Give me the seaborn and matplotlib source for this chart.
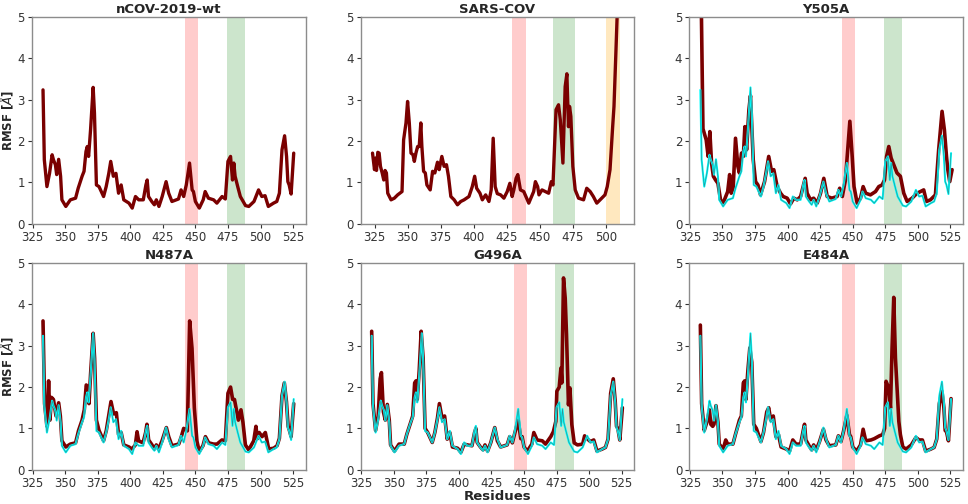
import numpy as np
import matplotlib
matplotlib.use("Agg")
import matplotlib.pyplot as plt
import seaborn as sns

# ===============================
# RMSF data
# ===============================

# wild type nCOV-2019 (also drawn in cyan behind every mutant)
wt_res = [333, 334, 336, 338, 340, 341, 342.5, 343.5, 345, 346.5,
          347.5, 350.5, 354, 358, 360, 363, 364.5, 366, 367, 368,
          369.5, 371.5, 372.5, 374, 376, 379.5, 381.5, 383.5, 385, 387,
          389, 391, 393, 395, 399, 401.5, 404, 406.5, 410, 412,
          413, 414, 416.5, 418.5, 420, 422, 424.5, 427.5, 429.5, 432,
          437, 439, 441, 443, 445.5, 447.5, 448.5, 450, 453, 456,
          457.5, 460, 464, 466.5, 470.5, 473, 475, 477, 478.5, 479.5,
          480.5, 482.5, 484.5, 488.5, 491, 495, 498.5, 501, 503.5, 506,
          510, 512.5, 514.5, 516.5, 518.5, 520, 521, 522, 523.5, 525.5]
wt_rmsf = [3.24, 1.55, 0.9, 1.22, 1.67, 1.55, 1.43, 1.19, 1.56, 1.15,
           0.58, 0.42, 0.58, 0.62, 0.86, 1.15, 1.27, 1.75, 1.87, 1.63,
           2.27, 3.3, 2.68, 0.94, 0.9, 0.66, 0.9, 1.22, 1.51, 1.15,
           1.22, 0.74, 0.94, 0.58, 0.5, 0.38, 0.66, 0.58, 0.58, 0.94,
           1.06, 0.66, 0.54, 0.46, 0.58, 0.42, 0.66, 1.02, 0.74, 0.54,
           0.6, 0.82, 0.66, 0.94, 1.47, 0.82, 0.78, 0.54, 0.38, 0.58,
           0.78, 0.62, 0.58, 0.5, 0.66, 0.6, 1.51, 1.63, 1.06, 1.47,
           1.15, 0.9, 0.66, 0.44, 0.42, 0.54, 0.82, 0.66, 0.68, 0.42,
           0.5, 0.54, 0.74, 1.79, 2.13, 1.63, 1.02, 0.94, 0.72, 1.71]

# SARS-COV
sars_res = [323.5, 325, 325.8, 326.5, 327.5, 328.5, 329.5, 330.8, 332, 333,
            334, 335, 337.5, 340, 342.5, 345.8, 347, 348.8, 350, 351.3,
            352.6, 354.1, 355.1, 356.3, 357.6, 358.8, 360, 360.8, 362.1, 363.4,
            364.6, 367.1, 368.9, 370.6, 372.6, 373.9, 375.9, 377.6, 379.4, 380.9,
            382.7, 385.2, 387.7, 390.2, 392.7, 396.4, 398.9, 400.7, 402.2, 404.7,
            406.5, 409, 411.5, 413.2, 414.7, 416.2, 417.8, 420.3, 422.8, 425.3,
            427.3, 429, 430.3, 432, 433.3, 435.3, 437.8, 441.6, 445.3, 446.6,
            448.3, 449.3, 451.6, 454.1, 456.6, 458.6, 459.9, 462.2, 464.1, 465.4,
            467.4, 469.1, 470.4, 471.6, 472.4, 473.4, 474.9, 476.7, 479.2, 483,
            485.4, 488, 490.4, 493, 495.5, 499.2, 500.9, 503, 505, 506,
            507.5, 509]
sars_rmsf = [1.71, 1.31, 1.59, 1.29, 1.73, 1.71, 1.39, 1.23, 1.06, 1.29,
             1.23, 0.74, 0.58, 0.62, 0.7, 0.78, 2.03, 2.44, 2.96, 2.44,
             1.71, 1.67, 1.51, 1.71, 1.87, 1.87, 2.44, 1.87, 1.27, 1.23,
             0.94, 0.82, 1.27, 1.23, 1.49, 1.31, 1.63, 1.39, 1.43, 1.15,
             0.66, 0.58, 0.46, 0.54, 0.58, 0.66, 0.9, 1.15, 0.86, 0.74,
             0.58, 0.7, 0.54, 0.82, 2.07, 0.9, 0.73, 0.7, 0.62, 0.78,
             0.98, 0.66, 0.82, 1.1, 1.19, 0.82, 0.78, 0.5, 0.78, 1.02,
             0.9, 0.7, 0.82, 0.78, 0.74, 1.02, 0.94, 2.76, 2.88, 2.52,
             1.47, 3.32, 3.63, 2.35, 2.84, 2.6, 1.39, 0.82, 0.62, 0.58,
             0.86, 0.78, 0.66, 0.5, 0.58, 0.7, 0.9, 1.31, 2.35, 2.84,
             4.2, 5.6]

# Y505A
y505a_res = [333, 335, 337.5, 339, 340.3, 341.6, 343, 344.7, 346.5,
             348.5, 350.5, 352.5, 354, 355.5, 356.7, 358.2, 360, 361.8, 363,
             364.6, 366, 367.2, 368.5, 370.3, 371.5, 373.6, 375.4, 377.2, 379.2,
             382.3, 385.5, 387.7, 389.4, 392, 394.6, 396.6, 399.7, 402.2, 404.8,
             407.4, 410, 413.5, 415, 417.6, 420, 422.7, 425.3, 427.8, 430.4,
             434, 438, 440, 442, 444.4, 447.8, 449.6, 451, 453.4, 456,
             458, 460, 463.6, 467.5, 470, 472.6, 474.4, 476, 477.7, 479.5,
             481.5, 484, 486.6, 489.2, 491.8, 495.6, 499.4, 502, 504.5, 506.6,
             509.7, 513.5, 516, 518.6, 520.4, 522, 523, 524.5, 526.3]
y505a_rmsf = [7.0, 2.3, 2.03, 1.63, 2.23, 1.47, 1.15, 1.06, 0.98,
              0.58, 0.5, 0.66, 0.78, 1.19, 0.74, 0.86, 2.07, 1.39, 1.23,
              1.71, 1.63, 2.35, 1.79, 2.76, 3.1, 1.55, 1.02, 0.94, 0.7,
              1.02, 1.63, 1.27, 1.31, 0.9, 0.74, 0.66, 0.62, 0.48, 0.62,
              0.58, 0.66, 1.1, 0.74, 0.58, 0.62, 0.5, 0.74, 1.1, 0.66,
              0.62, 0.66, 0.86, 0.66, 1.06, 2.48, 1.63, 0.9, 0.5, 0.62,
              0.9, 0.74, 0.7, 0.78, 0.9, 0.94, 1.06, 1.63, 1.87, 1.59,
              1.43, 1.23, 1.15, 0.74, 0.54, 0.62, 0.74, 0.78, 0.82, 0.54,
              0.58, 0.7, 1.79, 2.72, 2.27, 1.63, 1.31, 1.02, 1.31]

# N487A
n487a_res = [333, 334.2, 336, 337.3, 338.3, 339.5, 341, 343, 345, 346.3,
             347.5, 350.5, 354, 358, 360.3, 363, 364.7, 366.2, 367.3, 368.3,
             369.5, 371.5, 372.6, 374, 376, 379.5, 381.6, 383.4, 385.2, 387.2,
             389.3, 391, 393, 395, 399, 401.3, 403.9, 405.2, 406.4, 409.8,
             411.8, 412.8, 414.1, 416.7, 418.5, 420, 421.8, 424.4, 427.7, 429.5,
             432, 437.2, 439.2, 441, 443.8, 445.6, 447.4, 449.2, 451.2, 453,
             455.8, 457.7, 460.2, 464, 466.6, 470.4, 473, 475, 477, 478.6,
             480, 481.5, 483, 485, 486.5, 488.4, 490.9, 494.8, 496.5, 497.5,
             499, 501.2, 503.7, 506.3, 510.1, 512.7, 514.5, 516.5, 518.3, 519.9,
             521.2, 522.2, 523.5, 525.5]
n487a_rmsf = [3.6, 1.6, 1.05, 2.15, 1.2, 1.75, 1.7, 1.3, 1.62, 1.3,
              0.7, 0.55, 0.62, 0.65, 0.95, 1.2, 1.45, 2.05, 2.0, 1.6,
              2.3, 3.3, 2.7, 1.2, 0.95, 0.7, 0.95, 1.3, 1.65, 1.35,
              1.38, 0.85, 0.9, 0.6, 0.55, 0.5, 0.6, 0.92, 0.7, 0.65,
              0.9, 1.1, 0.72, 0.6, 0.5, 0.6, 0.5, 0.7, 1.02, 0.8,
              0.58, 0.62, 0.8, 1.0, 0.94, 3.6, 2.94, 1.49, 0.69, 0.44,
              0.58, 0.8, 0.65, 0.62, 0.62, 0.72, 0.7, 1.85, 2.0, 1.7,
              1.7, 1.45, 1.2, 1.45, 1.15, 0.6, 0.48, 0.7, 1.05, 0.75,
              0.9, 0.8, 0.9, 0.5, 0.52, 0.58, 0.76, 1.79, 2.1, 1.65,
              1.05, 0.95, 0.8, 1.6]

# G496A
g496a_res = [333, 334, 336, 338, 339.5, 340.5, 342, 343.5, 345, 346.5,
             347.5, 350.5, 354, 358, 360, 363, 364.5, 366, 367, 368,
             369.5, 371, 372.5, 374, 376, 379.5, 381.5, 383.5, 385, 387,
             389, 391, 393, 395, 399, 401.5, 404, 406.5, 410, 412,
             413, 414, 416.5, 418.5, 420, 422, 424.5, 427.5, 429.5, 432,
             437, 439, 441, 443, 445.5, 447.5, 448.5, 450, 452.5, 456,
             457.5, 460, 464, 466.5, 470.5, 472.5, 474.4, 475.2, 477, 478.3,
             479, 480.3, 481.6, 482.6, 484.1, 485.2, 486.7, 488.5, 491, 495,
             496.5, 498.5, 501, 503.5, 506, 510, 512.5, 514.5, 516.5, 518.5,
             520, 521, 522, 523.5, 525.5]
g496a_rmsf = [3.35, 1.6, 0.95, 1.3, 2.2, 2.35, 1.4, 1.2, 1.58, 1.2,
              0.6, 0.45, 0.62, 0.62, 0.86, 1.15, 1.3, 2.1, 2.15, 1.7,
              2.4, 3.35, 2.7, 1.0, 0.9, 0.66, 0.9, 1.25, 1.6, 1.25,
              1.3, 0.74, 0.9, 0.55, 0.52, 0.42, 0.62, 0.6, 0.58, 0.9,
              1.0, 0.66, 0.55, 0.48, 0.6, 0.45, 0.66, 1.02, 0.7, 0.55,
              0.6, 0.8, 0.65, 0.9, 1.2, 0.75, 0.8, 0.55, 0.45, 0.62,
              0.9, 0.72, 0.7, 0.62, 0.8, 0.92, 1.17, 1.9, 2.0, 2.46,
              2.1, 4.64, 4.15, 3.27, 1.57, 1.98, 1.09, 0.65, 0.6, 0.62,
              0.82, 0.75, 0.68, 0.72, 0.45, 0.5, 0.54, 0.74, 1.85, 2.2,
              1.65, 1.05, 1.0, 0.72, 1.5]

# E484A
e484a_res = [333, 334, 336, 338, 340, 341, 342.5, 343.5, 345, 346.5,
             347.5, 350.5, 352.5, 354, 358, 360, 363, 364.5, 366, 367,
             368, 369.5, 371, 372.5, 374, 376, 379.5, 381.5, 384, 385.5,
             387, 389, 391, 393, 395, 399, 401.5, 404, 406.5, 410,
             412, 413, 414, 416.5, 418.5, 420, 422, 424.5, 427.5, 429.5,
             432, 437, 439, 441, 443, 445.5, 447.5, 448.5, 450, 453,
             456, 458, 460, 464, 466.5, 470.5, 473, 474.5, 475.6, 477.6,
             479, 480.2, 481.5, 482.8, 484.1, 485.4, 486.6, 488.5, 491, 495,
             498.5, 501, 503.5, 506, 510, 512.5, 514.5, 516.5, 518.5, 520,
             521, 522, 523.5, 525.5]
e484a_rmsf = [3.5, 1.6, 0.95, 1.15, 1.45, 1.1, 1.05, 1.1, 1.55, 1.15,
              0.62, 0.5, 0.72, 0.62, 0.62, 0.86, 1.2, 1.3, 2.1, 2.15,
              1.7, 2.4, 2.95, 2.6, 1.1, 1.0, 0.68, 0.9, 1.4, 1.5,
              1.2, 1.3, 0.8, 0.85, 0.55, 0.5, 0.45, 0.72, 0.62, 0.62,
              0.95, 1.1, 0.72, 0.58, 0.48, 0.6, 0.48, 0.68, 0.98, 0.72,
              0.58, 0.6, 0.82, 0.68, 0.94, 1.32, 0.85, 0.8, 0.55, 0.45,
              0.6, 0.98, 0.7, 0.72, 0.75, 0.82, 0.85, 1.0, 2.14, 1.98,
              1.49, 2.94, 4.17, 2.7, 1.94, 1.17, 0.85, 0.55, 0.5, 0.6,
              0.78, 0.72, 0.72, 0.45, 0.5, 0.54, 0.74, 1.6, 1.9, 1.5,
              0.95, 0.92, 0.7, 1.72]

# highlighted residue ranges
ncov_red = (442, 452)
ncov_green = (474, 488)
sars_red = (429, 439.5)
sars_green = (460, 476.5)
sars_orange = (500, 510.5)

# ===============================
# Style
# ===============================

sns.set_style("ticks", {"axes.edgecolor": "0.55", "xtick.color": "0.2",
                        "ytick.color": "0.2"})
plt.rcParams['font.family'] = ['DejaVu Sans']
plt.rcParams['xtick.labelsize'] = 8.5
plt.rcParams['ytick.labelsize'] = 8.5
plt.rcParams['xtick.major.size'] = 3
plt.rcParams['ytick.major.size'] = 3
plt.rcParams['xtick.major.pad'] = 2
plt.rcParams['ytick.major.pad'] = 2

WT_COLOR = "#7a0000"
CYAN = "#00ffff"

fig, axes = plt.subplots(2, 3, figsize=(9.68, 5.04), dpi=100)
fig.subplots_adjust(left=0.033, right=0.995, top=0.966, bottom=0.068,
                    wspace=0.2, hspace=0.19)


def shade(ax, red, green, orange=None):
    ax.axvspan(*red, color="red", alpha=0.2, lw=0, zorder=0)
    ax.axvspan(*green, color="green", alpha=0.2, lw=0, zorder=0)
    if orange is not None:
        ax.axvspan(*orange, color="orange", alpha=0.25, lw=0, zorder=0)


def finish(ax, title, xlim):
    ax.set_ylim(0, 5)
    ax.set_xlim(*xlim)
    ax.set_yticks([0, 1, 2, 3, 4, 5])
    ax.set_title(title, fontsize=9.5, fontweight="bold", pad=3)
    ax.set_xlabel("")
    ax.set_ylabel("")
    for s in ax.spines.values():
        s.set_linewidth(1.0)


ncov_xlim = (324.5, 534.8)

# nCOV-2019-wt
ax = axes[0, 0]
shade(ax, ncov_red, ncov_green)
sns.lineplot(x=wt_res, y=wt_rmsf, ax=ax, color=WT_COLOR, linewidth=2.4,
             estimator=None, sort=False)
ax.set_xticks([325, 350, 375, 400, 425, 450, 475, 500, 525])
finish(ax, "nCOV-2019-wt", ncov_xlim)

# SARS-COV
ax = axes[0, 1]
shade(ax, sars_red, sars_green, sars_orange)
sns.lineplot(x=sars_res, y=sars_rmsf, ax=ax, color=WT_COLOR, linewidth=2.4,
             estimator=None, sort=False)
ax.set_xticks([325, 350, 375, 400, 425, 450, 475, 500])
finish(ax, "SARS-COV", (314.5, 521.5))

# mutants over the wild type
mutants = [
    (axes[0, 2], "Y505A", y505a_res, y505a_rmsf),
    (axes[1, 0], "N487A", n487a_res, n487a_rmsf),
    (axes[1, 1], "G496A", g496a_res, g496a_rmsf),
    (axes[1, 2], "E484A", e484a_res, e484a_rmsf),
]
for ax, name, res, rmsf in mutants:
    shade(ax, ncov_red, ncov_green)
    sns.lineplot(x=res, y=rmsf, ax=ax, color=WT_COLOR, linewidth=2.6,
                 estimator=None, sort=False)
    sns.lineplot(x=wt_res, y=wt_rmsf, ax=ax, color=CYAN, linewidth=1.5,
                 estimator=None, sort=False)
    sns.lineplot(x=wt_res, y=wt_rmsf, ax=ax, color="0.3", linewidth=0.5,
                 alpha=0.6, estimator=None, sort=False)
    ax.set_xticks([325, 350, 375, 400, 425, 450, 475, 500, 525])
    finish(ax, name, ncov_xlim)

axes[0, 0].set_ylabel("RMSF [$\\AA$]", fontsize=8.5, fontweight="bold",
                      labelpad=1)
axes[1, 0].set_ylabel("RMSF [$\\AA$]", fontsize=8.5, fontweight="bold",
                      labelpad=1)
axes[1, 1].set_xlabel("Residues", fontsize=9.5, fontweight="bold", labelpad=0)

plt.savefig("out.png", dpi=100)
